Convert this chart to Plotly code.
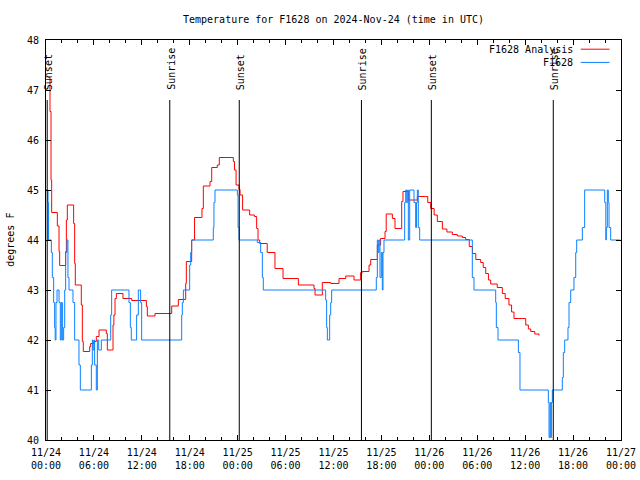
import plotly.graph_objects as go
import pandas as pd

# ---------------- data (hours since 2024-11-24 00:00 UTC) ----------------
red_hours = [0.29, 0.5, 0.63, 0.71, 1.42, 1.63, 1.71, 2.46, 2.55, 2.67, 3.46, 3.59, 3.67,
             4.42, 4.55, 4.67, 5.47, 5.59, 6.0, 6.3, 6.64, 7.55, 7.68, 8.39, 8.5, 8.64, 8.81,
             9.64, 10.73, 12.57, 12.69, 13.65, 15.74, 16.57, 17.49, 17.57, 18.24, 18.6, 19.53,
             19.7, 20.54, 20.75, 21.45, 21.7, 23.46, 23.6, 23.8, 24.17, 24.3, 24.62, 25.5, 26.1,
             26.38, 26.55, 26.76, 27.7, 28.67, 29.68, 31.6, 33.56, 33.69, 34.6, 35.65, 36.69,
             37.53, 38.57, 39.4, 39.6, 40.45, 40.66, 41.49, 41.9, 42.45, 42.6, 43.37, 43.7,
             44.54, 44.7, 45.37, 46.5, 47.5, 47.8, 48.17, 48.6, 49.0, 49.63, 50.2, 50.88, 51.5,
             52.13, 52.55, 53.0, 53.4, 53.82, 54.43, 54.75, 55.06, 55.4, 55.68, 56.5, 57.14,
             57.5, 57.97, 58.3, 58.6, 59.65, 60.07, 60.4, 60.7, 61.2, 61.73]
red_temps = [47.25, 46.57, 45.2, 44.55, 44.28, 43.77, 43.49, 43.77, 44.4, 44.7, 44.33, 43.53, 43.1,
             42.7, 41.97, 41.77, 41.87, 41.93, 41.97, 42.07, 42.2, 42.13, 41.8, 42.3, 42.5, 42.83, 42.93,
             42.83, 42.79, 42.67, 42.48, 42.53, 42.68, 42.81, 43.13, 43.57, 44.0, 44.45, 44.63,
             45.08, 45.17, 45.45, 45.5, 45.65, 45.57, 45.4, 45.1, 45.01, 44.9, 44.6, 44.5, 44.47,
             44.23, 44.0, 43.93, 43.75, 43.43, 43.23, 43.1, 43.03, 42.9, 43.15, 43.13, 43.23,
             43.28, 43.2, 43.35, 43.37, 43.5, 43.61, 43.9, 44.03, 44.17, 44.52, 44.43, 44.23,
             44.77, 44.97, 44.8, 44.87, 44.87, 44.75, 44.63, 44.5, 44.37, 44.22, 44.16, 44.11, 44.08,
             44.05, 44.01, 43.87, 43.73, 43.61, 43.55, 43.45, 43.33, 43.2, 43.12, 43.05, 42.93,
             42.83, 42.7, 42.56, 42.43, 42.43, 42.3, 42.22, 42.17, 42.12, 42.09]

blue_hours = [0.02, 0.25, 0.32, 0.67, 0.79, 0.96, 1.08, 1.15, 1.25, 1.38, 1.63, 1.79, 1.92, 2.05,
              2.21, 2.34, 2.46, 2.63, 2.75, 2.88, 3.38, 3.59, 4.13, 4.3, 5.68, 5.8, 5.88, 6.0,
              6.09, 6.3, 6.43, 6.6, 6.93, 8.1, 8.22, 10.39, 10.56, 10.68, 11.35, 11.56, 11.85,
              11.98, 16.99, 17.07, 17.2, 17.99, 18.12, 18.24, 20.95, 21.03, 21.16, 23.96, 24.05,
              24.17, 26.46, 26.88, 27.09, 27.21, 35.02, 35.14, 35.23, 35.52, 35.65, 35.77, 41.36,
              41.49, 41.6, 41.7, 41.82, 41.99, 42.11, 42.2, 42.32, 44.91, 45.04, 45.17, 45.3,
              45.37, 45.54, 46.08, 46.29, 46.4, 46.5, 46.62, 46.79, 53.38, 53.59, 56.31, 56.39,
              56.6, 59.15, 59.35, 62.9, 62.99, 63.11, 63.2, 63.28, 63.4, 64.65, 64.78, 64.95,
              65.36, 65.49, 65.7, 66.11, 66.33, 66.45, 67.16, 67.45, 69.96, 70.1, 70.16, 70.29,
              70.41, 70.5, 70.71, 71.9]
blue_temps = [45, 44.75, 44, 43.75, 43.25, 42.75, 42.25, 42, 42.75, 43, 42.75, 42, 42.75, 42,
              42.25, 43, 43.75, 44, 43.25, 43, 42.75, 42, 41.5, 41, 41.5, 42, 41.8, 42,
              41.5, 41, 42, 41.8, 42, 42.5, 43, 42.75, 42.25, 42, 42.5, 43, 42.75,
              42, 42.5, 42.75, 43, 43.5, 43.75, 44, 44.25, 44.75, 45, 44.9, 44.25,
              44, 43.95, 43.75, 43.25, 43, 42.8, 42.25, 42, 42.5, 42.75, 43, 43.25,
              44, 43.75, 44, 43.25, 43.75, 43, 43.75, 44, 44.75, 45, 44.75, 45,
              44, 45, 44.75, 44.25, 44.75, 45, 44.25, 44, 43.25, 43, 42.75, 42.25,
              42, 41.75, 41, 40.75, 40.05, 40.75, 40.05, 40.75, 41, 41.25, 41.75, 42,
              42.25, 42.75, 43, 43.25, 43.75, 44, 44.25, 45, 44.75, 44, 44.25, 45,
              44.75, 44.25, 44, 44]

event_hours = [0.15, 15.5, 24.2, 39.5, 48.25, 63.52]
event_labels = ["Sunset", "Sunrise", "Sunset", "Sunrise", "Sunset", "Sunrise"]

title_text = "Temperature for F1628 on 2024-Nov-24 (time in UTC)"
y_label = "degrees F"
series_names = ["F1628 Analysis", "F1628"]
series_colors = ["#ff0000", "#0a80ff"]

# ---------------- figure ----------------
base = pd.Timestamp("2024-11-24 00:00")


def to_time(hs):
    return [base + pd.Timedelta(hours=h) for h in hs]


FONT = "DejaVu Sans Mono"
fig = go.Figure()
fig.add_trace(go.Scatter(x=to_time(red_hours), y=red_temps, mode="lines", name=series_names[0],
                         line=dict(color=series_colors[0], width=1, shape="hv"), showlegend=False))
fig.add_trace(go.Scatter(x=to_time(blue_hours), y=blue_temps, mode="lines", name=series_names[1],
                         line=dict(color=series_colors[1], width=1, shape="hv"), showlegend=False))

for ts, lab in zip(to_time(event_hours), event_labels):
    fig.add_shape(type="line", xref="x", yref="paper", x0=ts, x1=ts, y0=0, y1=0.85,
                  line=dict(color="black", width=1))
    fig.add_annotation(x=ts, xref="x", y=0.87, yref="paper", text=lab, textangle=-90,
                       showarrow=False, xanchor="center", yanchor="bottom", xshift=1,
                       font=dict(family=FONT, size=10, color="black"))

# manual gnuplot-style legend (text then line sample)
leg_y = [0.977, 0.944]
for name, col, yy in zip(series_names, series_colors, leg_y):
    fig.add_annotation(x=0.92, xref="paper", y=yy, yref="paper", text=name, showarrow=False,
                       xanchor="right", yanchor="middle", font=dict(family=FONT, size=10, color="black"))
    fig.add_shape(type="line", xref="paper", yref="paper", x0=0.930, x1=0.98, y0=yy, y1=yy,
                  line=dict(color=col, width=1))

# y-axis label
fig.add_annotation(x=-0.063, xref="paper", y=0.5, yref="paper", text=y_label, textangle=-90,
                   showarrow=False, xanchor="center", yanchor="middle",
                   font=dict(family=FONT, size=10, color="black"))

fig.update_layout(
    width=640, height=480,
    margin=dict(l=46, r=19, t=40, b=40, autoexpand=False),
    paper_bgcolor="white", plot_bgcolor="white",
    title=dict(text=title_text, x=0.5, xref="paper", y=1 - 19 / 480, yanchor="middle",
               font=dict(family=FONT, size=10, color="black")),
    font=dict(family=FONT, size=10, color="black"),
    showlegend=False,
    hovermode=False,
)
fig.update_xaxes(
    type="date", range=[base, base + pd.Timedelta(hours=72)], automargin=False,
    dtick=6 * 3600 * 1000, tick0=base, tickformat="%m/%d<br>%H:%M",
    ticks="inside", ticklen=5, tickcolor="black", tickwidth=1,
    showline=True, linecolor="black", linewidth=1, mirror="allticks",
    showgrid=False, zeroline=False, ticklabelstandoff=3,
    minor=dict(dtick=2 * 3600 * 1000, ticks="inside", ticklen=3, tickcolor="black", showgrid=False),
    tickfont=dict(family=FONT, size=10, color="black"),
)
fig.update_yaxes(
    range=[40, 48], dtick=1, tick0=40, automargin=False,
    ticks="inside", ticklen=5, tickcolor="black", tickwidth=1,
    showline=True, linecolor="black", linewidth=1, mirror="allticks",
    showgrid=False, zeroline=False, ticklabelstandoff=4,
    tickfont=dict(family=FONT, size=10, color="black"),
)

fig.write_html("out.html", config={"displayModeBar": False, "staticPlot": True},
               post_script="document.body.style.margin='0';document.body.style.overflow='hidden';")
